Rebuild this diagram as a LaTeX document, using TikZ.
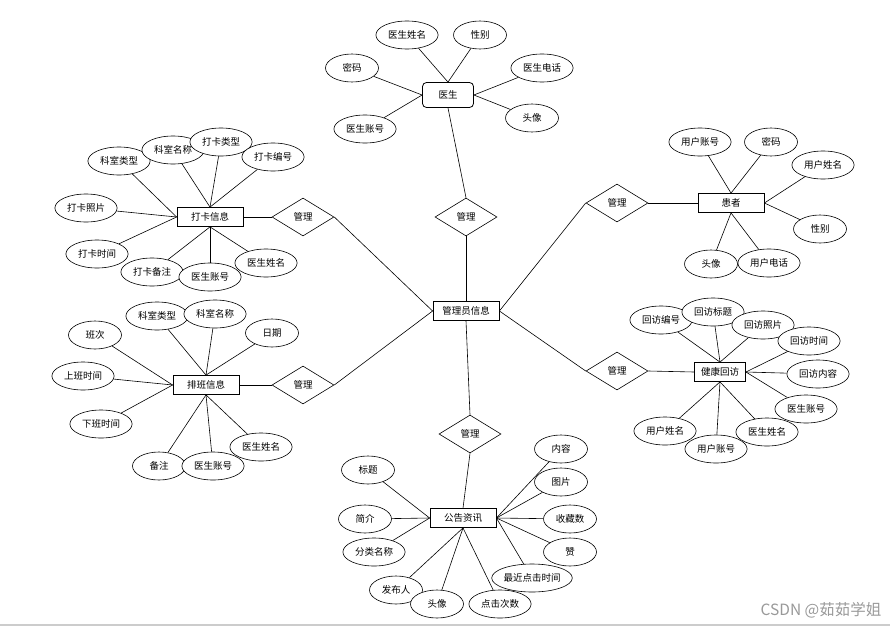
\documentclass[tikz,border=0pt]{standalone}
\usepackage{fontspec}
\setmainfont{Noto Sans CJK SC}
\usetikzlibrary{shapes.geometric}
\begin{document}
\begin{tikzpicture}[x=1pt,y=-1pt,
        attr/.style={ellipse,draw,fill=white,minimum width=53pt,minimum height=28pt,
            inner xsep=3pt,inner ysep=0pt},
        ent/.style={rectangle,draw,fill=white,minimum width=66pt,minimum height=19pt,
            inner sep=0pt,line width=0.8pt},
        rel/.style={diamond,draw,fill=white,minimum width=62pt,minimum height=38pt,
            inner sep=0pt},
        font=\fontsize{9.5}{11}\selectfont, line width=0.6pt]
\useasboundingbox (0,0) rectangle (890,626);

\node[ent] (admin) at (466,311) {管理员信息};
\node[ent,rounded corners=4pt,minimum width=51pt,minimum height=25pt] (doc) at (448,95) {医生};
\node[ent] (daka) at (210,217) {打卡信息};
\node[ent] (paiban) at (206,385) {排班信息};
\node[ent] (patient) at (731,203) {患者};
\node[ent,minimum width=51pt] (visit) at (720,372) {健康回访};
\node[ent] (notice) at (463,518) {公告资讯};

\node[rel] (r1) at (466,217) {管理};
\node[rel] (r2) at (303,217) {管理};
\node[rel] (r3) at (303,385) {管理};
\node[rel] (r4) at (617,203) {管理};
\node[rel] (r5) at (617,371) {管理};
\node[rel] (r6) at (470,434) {管理};

\draw (doc.south) -- (r1.north);
\draw (r1.south) -- (admin.north);
\draw (daka.east) -- (r2.west);
\draw (r2.east) -- (admin.west);
\draw (paiban.east) -- (r3.west);
\draw (r3.east) -- (admin.west);
\draw (admin.east) -- (r4.west);
\draw (r4.east) -- (patient.west);
\draw (admin.east) -- (r5.west);
\draw (r5.east) -- (visit.west);
\draw (admin.south) -- (r6.north);
\draw (r6.south) -- (notice.north);

\foreach \n/\x/\y/\t/\a in {d1/407/35/医生姓名/north, d2/480/35/性别/north,
        d3/352/68/密码/west, d4/365/129/医生账号/west,
        d5/542/68/医生电话/east, d6/532/118/头像/east}
    {\node[attr] (\n) at (\x,\y) {\t}; \draw (\n) -- (doc.\a);}

\foreach \n/\x/\y/\t/\a in {k1/119/161/科室类型/west, k2/173/150/科室名称/north,
        k3/221/142/打卡类型/north, k4/273/157/打卡编号/north,
        k5/86/208/打卡照片/west, k6/97/254/打卡时间/west,
        k7/152/272/打卡备注/south, k8/210/277/医生账号/south, k9/266/263/医生姓名/south}
    {\node[attr] (\n) at (\x,\y) {\t}; \draw (\n) -- (daka.\a);}

\foreach \n/\x/\y/\t/\a in {p1/157/316/科室类型/north, p2/215/314/科室名称/north,
        p3/272/333/日期/north, p4/95/335/班次/west,
        p5/83/376/上班时间/west, p6/101/424/下班时间/west,
        p7/159/466/备注/south, p8/213/466/医生账号/south, p9/261/447/医生姓名/south}
    {\node[attr] (\n) at (\x,\y) {\t}; \draw (\n) -- (paiban.\a);}

\foreach \n/\x/\y/\t/\a in {h1/700/142/用户账号/north, h2/771/142/密码/north,
        h3/823/165/用户姓名/east, h4/820/229/性别/east,
        h5/711/264/头像/south, h6/769/263/用户电话/south}
    {\node[attr] (\n) at (\x,\y) {\t}; \draw (\n) -- (patient.\a);}

\foreach \n/\x/\y/\t/\a in {v1/661/320/回访编号/north, v2/713/312/回访标题/north,
        v3/763/325/回访照片/north, v4/809/341/回访时间/east,
        v5/818/374/回访内容/east, v6/806/409/医生账号/east,
        v7/665/431/用户姓名/south, v8/716/449/用户账号/south, v9/767/432/医生姓名/south}
    {\node[attr] (\n) at (\x,\y) {\t}; \draw (\n) -- (visit.\a);}

\foreach \n/\x/\y/\t/\a in {n1/368/470/标题/west, n2/365/519/简介/west,
        n3/374/552/分类名称/west, n4/396/590/发布人/south,
        n5/437/604/头像/south, n6/500/604/点击次数/south,
        n8/570/552/赞/east, n9/570/519/收藏数/east,
        n10/561/482/图片/east, n11/561/449/内容/east}
    {\node[attr] (\n) at (\x,\y) {\t}; \draw (\n) -- (notice.\a);}
\node[attr,inner xsep=0pt] (n7) at (532,578) {最近点击时间};
\draw (n7) -- (notice.east);

\node[text=black!40,font=\fontsize{15.5}{17}\selectfont] (mark) at (821,610) {CSDN @茹茹学姐};
\draw[black!20,line width=2pt] (0,624.5) -- (890,624.5);
\end{tikzpicture}
\end{document}
